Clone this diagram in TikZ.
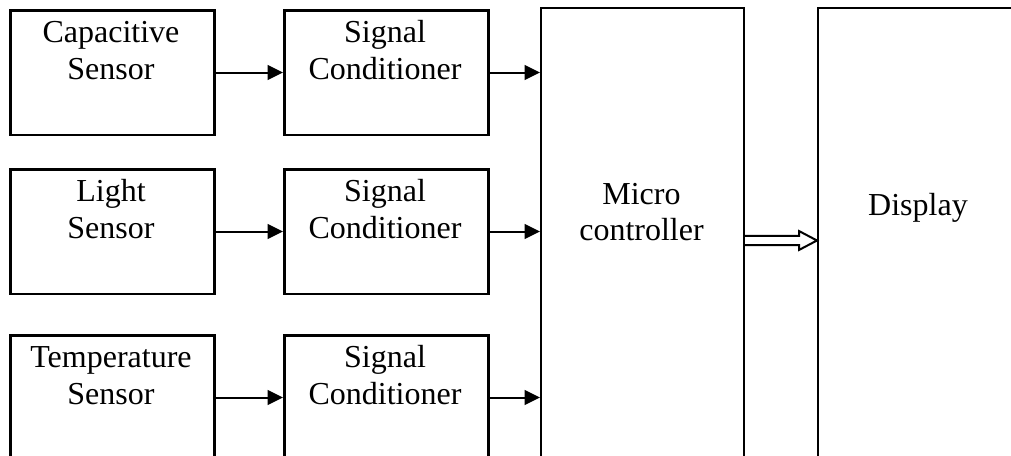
\documentclass[tikz,border=0pt]{standalone}
\usepackage{fontspec}
\setmainfont{Liberation Serif}
\usetikzlibrary{arrows.meta}
\begin{document}
\begin{tikzpicture}[x=0.75pt,y=-0.75pt,
  box/.style={draw, line width=1.9pt, minimum width=153pt, minimum height=93.4pt, inner sep=0pt, anchor=north west},
  big/.style={draw, line width=1.5pt, minimum width=152.25pt, minimum height=352pt, inner sep=0pt, anchor=north west},
  lbl/.style={font=\fontsize{24}{27.75}\selectfont, align=center, inner sep=0pt, anchor=base},
  sarrow/.style={line width=1.5pt, -{Triangle[length=11.5pt,width=11pt]}},
  darrow/.style={line width=1.5pt, line join=miter}]
\useasboundingbox (0,0) rectangle (1011,456);
\clip (0,0) rectangle (1011,456);
% first column
\node[box] (c1) at (9,9) {};
\node[box] (c2) at (9,168) {};
\node[box] (c3) at (9,334) {};
% second column
\node[box] (s1) at (283,9) {};
\node[box] (s2) at (283,168) {};
\node[box] (s3) at (283,334) {};
% micro and display
\node[big] (mc) at (540,7) {};
\node[big] (dp) at (817,7) {};
% labels (anchored at the baseline of the last line)
\node[lbl] (t1) at (111,79.5) {Capacitive\\Sensor};
\node[lbl] (t2) at (111,238.5) {Light\\Sensor};
\node[lbl] (t3) at (111,404.5) {Temperature\\Sensor};
\node[lbl] (u1) at (385,79.5) {Signal\\Conditioner};
\node[lbl] (u2) at (385,238.5) {Signal\\Conditioner};
\node[lbl] (u3) at (385,404.5) {Signal\\Conditioner};
\node[lbl] (tm) at (641.5,241) {Micro\\controller};
\node[lbl] (td) at (918,216) {Display};
% connectors
\draw[sarrow] (c1.east) -- (s1.west);
\draw[sarrow] (c2.east) -- (s2.west);
\draw[sarrow] (c3.east) -- (s3.west);
\draw[sarrow] (s1.east) -- (mc.west |- s1.east);
\draw[sarrow] (s2.east) -- (mc.west |- s2.east);
\draw[sarrow] (s3.east) -- (mc.west |- s3.east);
\coordinate (da) at (mc.east |- 0,240.5);
\coordinate (db) at (dp.west |- 0,240.5);
\draw[darrow] ([yshift=3.4pt]da) -- ([xshift=-13.5pt,yshift=3.4pt]db) -- ([xshift=-13.5pt,yshift=7.1pt]db) -- (db)
  -- ([xshift=-13.5pt,yshift=-7.1pt]db) -- ([xshift=-13.5pt,yshift=-3.4pt]db) -- ([yshift=-3.4pt]da);
\end{tikzpicture}
\end{document}
